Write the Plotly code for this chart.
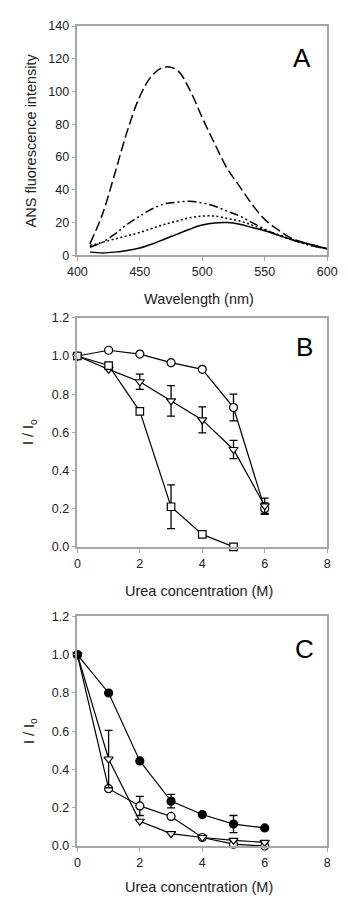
import plotly.graph_objects as go

# ---------------- data ----------------
# Panel A: ANS fluorescence spectra
wavelength = [410, 420, 430, 440, 450, 460, 470, 480, 490, 500, 510, 520, 530, 540, 550, 560, 570, 580, 590, 600]
spec_dashed = [7, 25, 50, 76, 97, 110, 115, 113, 101, 84, 68, 53, 42, 31, 22, 16, 11, 8, 6, 4]
spec_dashdot = [5, 8, 13, 19, 24, 28.5, 31.5, 32.5, 33, 32, 30, 27, 24, 20, 16, 12.5, 10, 7.5, 5.5, 4]
spec_dotted = [6, 8, 10, 12, 14, 16.5, 19, 21, 23, 24, 24, 22.5, 21, 18.5, 15.5, 13, 10, 7.5, 5.5, 4]
spec_solid = [2, 1.5, 2, 3, 4.5, 7, 10, 13, 16, 18.5, 19.8, 20, 19, 17, 15, 12.5, 10, 8, 6, 4]

# Panel B: I/Io vs urea
urea_B = [0, 1, 2, 3, 4, 5, 6]
B_circle = [1.0, 1.03, 1.01, 0.965, 0.93, 0.73, 0.20]
B_circle_err = [0, 0, 0, 0, 0, 0.07, 0.03]
B_tri = [1.0, 0.93, 0.865, 0.765, 0.665, 0.51, 0.215]
B_tri_err = [0, 0, 0.04, 0.08, 0.068, 0.048, 0.04]
urea_B_sq = [0, 1, 2, 3, 4, 5]
B_square = [1.0, 0.95, 0.71, 0.21, 0.065, 0.0]
B_square_err = [0, 0, 0, 0.115, 0, 0]

# Panel C
urea_C = [0, 1, 2, 3, 4, 5, 6]
C_filled = [1.0, 0.80, 0.445, 0.235, 0.165, 0.115, 0.095]
C_filled_err = [0, 0, 0, 0.035, 0, 0.045, 0]
C_open = [1.0, 0.30, 0.21, 0.155, 0.045, 0.01, 0.0]
C_open_err = [0, 0, 0.05, 0, 0, 0, 0]
C_tri = [1.0, 0.455, 0.13, 0.065, 0.045, 0.03, 0.02]
C_tri_err = [0, 0.15, 0, 0, 0, 0, 0]

A_xticks = [400, 450, 500, 550, 600]
A_yticks = [0, 20, 40, 60, 80, 100, 120, 140]
BC_xticks = [0, 2, 4, 6, 8]
BC_yticks = [0.0, 0.2, 0.4, 0.6, 0.8, 1.0, 1.2]

# ---------------- layout helpers ----------------
W, H = 348, 905
FONT = "Liberation Sans, Arial, sans-serif"
AX = "#a6a6a6"
TXT = "#222222"


def px_x(p):
    return p / W


def px_y(p):
    return 1 - p / H


x_dom = [px_x(71.5), px_x(336.5)]
panels = {
    "A": (19.3, 252.3),
    "B": (315.7, 548.3),
    "C": (619.0, 852.3),
}

fig = go.Figure()

line_kw = dict(color="black", width=1.5)

# Panel A traces
for y, dash in [(spec_dashed, "10px,4px"), (spec_dashdot, "9px,3px,2px,3px,2px,3px"),
                (spec_dotted, "2px,2.5px"), (spec_solid, "solid")]:
    fig.add_trace(go.Scatter(x=wavelength, y=y, mode="lines", line_shape="spline",
                             line=dict(color="black", width=1.5, dash=dash),
                             xaxis="x", yaxis="y", showlegend=False, hoverinfo="skip"))


def add_series(x, y, err, symbol, fill, xa, ya):
    ex = [xi for xi, e in zip(x, err) if e > 0]
    ey = [yi for yi, e in zip(y, err) if e > 0]
    ee = [e for e in err if e > 0]
    if ex:
        fig.add_trace(go.Scatter(x=ex, y=ey, mode="markers",
                                 marker=dict(size=1, color="rgba(0,0,0,0)"),
                                 error_y=dict(type="data", array=ee, visible=True,
                                              color="black", thickness=1.3, width=4),
                                 xaxis=xa, yaxis=ya, showlegend=False, hoverinfo="skip",
                                 cliponaxis=False))
    fig.add_trace(go.Scatter(x=x, y=y, mode="lines+markers",
                             line=dict(color="black", width=1.2),
                             marker=dict(symbol=symbol, size=8 if symbol != "square" else 7.5,
                                         color=fill, line=dict(color="black", width=1.2)),
                             xaxis=xa, yaxis=ya, showlegend=False, cliponaxis=False))


# Panel B
add_series(urea_B, B_circle, B_circle_err, "circle", "white", "x2", "y2")
add_series(urea_B, B_tri, B_tri_err, "triangle-down", "white", "x2", "y2")
add_series(urea_B_sq, B_square, B_square_err, "square", "white", "x2", "y2")

# Panel C
add_series(urea_C, C_open, C_open_err, "circle", "white", "x3", "y3")
add_series(urea_C, C_tri, C_tri_err, "triangle-down", "white", "x3", "y3")
add_series(urea_C, C_filled, C_filled_err, "circle", "black", "x3", "y3")

axis_common = dict(showline=True, mirror=True, linecolor=AX, linewidth=1.5,
                   ticks="outside", ticklen=4, tickcolor=AX, tickwidth=1,
                   showgrid=False, zeroline=False,
                   tickfont=dict(family=FONT, size=12.5, color=TXT))

layout = dict(width=W, height=H, margin=dict(l=0, r=0, t=0, b=0),
              paper_bgcolor="white", plot_bgcolor="white", showlegend=False)

names = [("xaxis", "yaxis", "A"), ("xaxis2", "yaxis2", "B"), ("xaxis3", "yaxis3", "C")]
for i, (xn, yn, p) in enumerate(names):
    top, bot = panels[p]
    ysuf = "y" if i == 0 else f"y{i+1}"
    xsuf = "x" if i == 0 else f"x{i+1}"
    if p == "A":
        xr, xt, yr, yt, yfmt = [400, 600], A_xticks, [0, 140], A_yticks, None
    else:
        xr, xt, yr, yt, yfmt = [0, 8], BC_xticks, [0, 1.2], BC_yticks, ".1f"
    layout[xn] = dict(axis_common, domain=x_dom, range=xr, tickvals=xt, anchor=ysuf)
    ydict = dict(axis_common, domain=[px_y(bot), px_y(top)], range=yr, tickvals=yt, anchor=xsuf)
    if yfmt:
        ydict["tickformat"] = yfmt
    layout[yn] = ydict

annotations = []
title_font = dict(family=FONT, size=14.5, color=TXT)
xtitle_y = {"A": 297, "B": 593, "C": 894}
xtitle_txt = {"A": "Wavelength (nm)", "B": "Urea concentration (M)", "C": "Urea concentration (M)"}
for p, (top, bot) in panels.items():
    annotations.append(dict(text=xtitle_txt[p], x=px_x(200), y=px_y(xtitle_y[p]),
                            xref="paper", yref="paper", xanchor="center", yanchor="middle",
                            showarrow=False, font=title_font))
    ytxt = "ANS fluorescence intensity" if p == "A" else "I / I<sub>o</sub>"
    annotations.append(dict(text=ytxt, x=px_x(22 if p == "A" else 21), y=px_y((top + bot) / 2),
                            xref="paper", yref="paper", xanchor="center", yanchor="middle",
                            textangle=-90, showarrow=False, font=title_font))
letter_pos = {"A": (310, 52), "B": (312, 345), "C": (312, 652)}
for p, (lx, ly) in letter_pos.items():
    annotations.append(dict(text=p, x=px_x(lx), y=px_y(ly), xref="paper", yref="paper",
                            xanchor="center", yanchor="middle", showarrow=False,
                            font=dict(family=FONT, size=26, color="black")))
layout["annotations"] = annotations

fig.update_layout(**layout)
fig.write_html("out.html")
